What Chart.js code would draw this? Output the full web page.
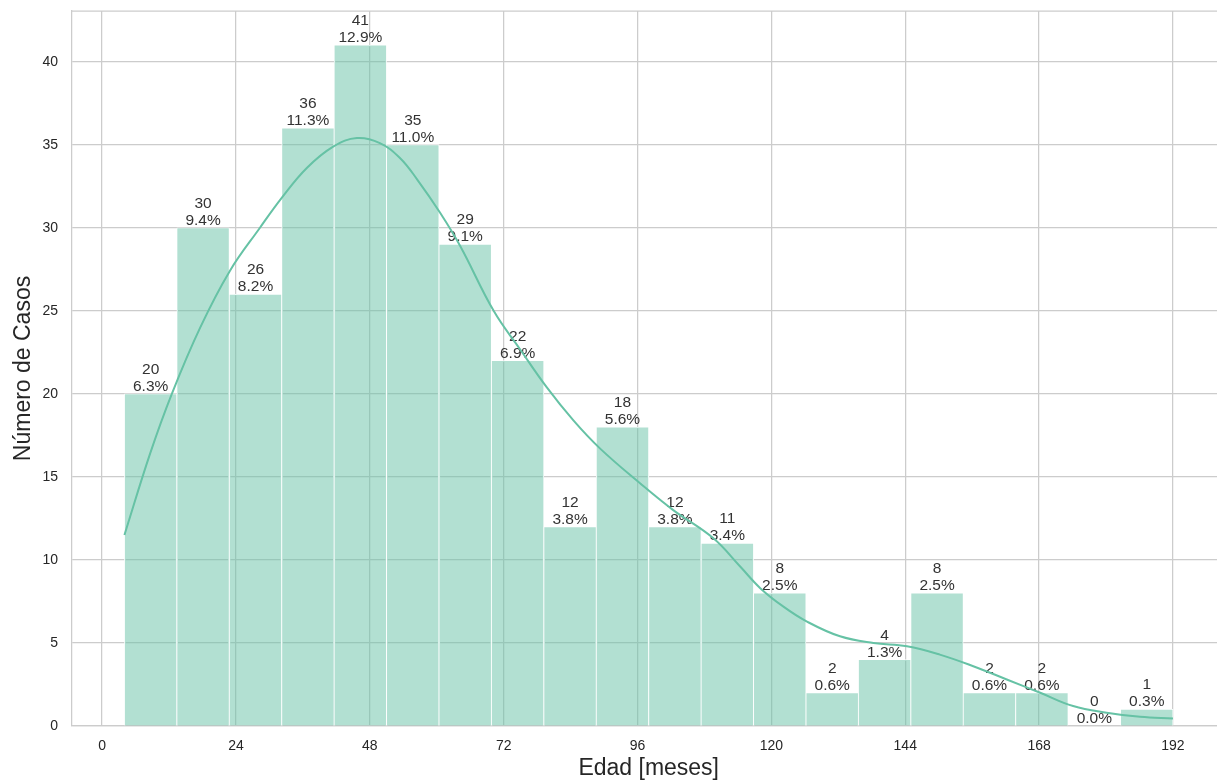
<!DOCTYPE html>
<html>
<head>
<meta charset="utf-8">
<script src="https://cdn.jsdelivr.net/npm/chart.js@4/dist/chart.umd.min.js"></script>
<style>
  html, body { margin: 0; padding: 0; background: #ffffff; overflow: hidden; }
  #wrap { width: 1232px; height: 781px; }
</style>
</head>
<body>
<div id="wrap"><canvas id="c" width="1232" height="781"></canvas></div>
<script>
// Histogram of ages (months): 20 bins of 9.4 months starting at 4
const counts = [20, 30, 26, 36, 41, 35, 29, 22, 12, 18, 12, 11, 8, 2, 4, 8, 2, 2, 0, 1];
const binStart = 4;
const binWidth = 9.4;

// Kernel density estimate, scaled to counts
const kdeAge = [4, 8.6, 12.5, 17.6, 22.9, 28.3, 32.2, 36.7, 41.5, 45.7, 49.8, 53.4, 56.5, 60.6, 64.2,
  70.2, 74.9, 79.7, 84.5, 89.3, 96.5, 102.4, 109.6, 114.4, 118.0, 122.1, 126.3, 132.3, 138.3,
  144.3, 150.2, 156.2, 162.2, 168.2, 174.1, 180.1, 186.1, 192];
const kdeValue = [11.5, 16.4, 20.0, 24.0, 27.4, 30.0, 31.8, 33.6, 34.9, 35.4, 35.1, 34.2, 32.9, 30.9, 28.9,
  25.0, 22.7, 20.4, 18.4, 16.7, 14.6, 13.0, 11.3, 9.6, 8.3, 7.2, 6.3, 5.4, 5.0,
  4.8, 4.3, 3.6, 2.8, 2.0, 1.2, 0.8, 0.55, 0.45];

const xTickStep = 24;
const yTickStep = 5;

const total = counts.reduce((a, b) => a + b, 0);
const barPoints = counts.map((n, i) => ({ x: binStart + binWidth * (i + 0.5), y: n }));
const kdePoints = kdeAge.map((a, i) => ({ x: a, y: kdeValue[i] }));

const TEXT = '#262626';
const GRID = '#cccccc';
const TEAL = '#66c2a5';

Chart.defaults.font.family = '"Liberation Sans", Arial, sans-serif';

// Count and percentage above each bar
const barLabels = {
  id: 'barLabels',
  afterDatasetDraw(chart, args) {
    if (args.index !== 0) return;
    const ctx = chart.ctx;
    ctx.save();
    ctx.font = '15.5px "Liberation Sans", Arial, sans-serif';
    ctx.fillStyle = '#333333';
    ctx.textAlign = 'center';
    ctx.textBaseline = 'alphabetic';
    args.meta.data.forEach((bar, i) => {
      const n = counts[i];
      const pct = (100 * n / total).toFixed(1) + '%';
      ctx.fillText(pct, bar.x, bar.y - 3);
      ctx.fillText(String(n), bar.x, bar.y - 20);
    });
    ctx.restore();
  }
};

// Top frame line of the plot area
const topSpine = {
  id: 'topSpine',
  afterDraw(chart) {
    const { ctx, chartArea } = chart;
    ctx.save();
    ctx.strokeStyle = GRID;
    ctx.lineWidth = 1.25;
    ctx.beginPath();
    ctx.moveTo(chartArea.left, chartArea.top);
    ctx.lineTo(chartArea.right, chartArea.top);
    ctx.stroke();
    ctx.restore();
  }
};

new Chart(document.getElementById('c'), {
  type: 'bar',
  data: {
    datasets: [
      {
        type: 'bar',
        data: barPoints,
        backgroundColor: 'rgba(102,194,165,0.5)',
        borderColor: '#ffffff',
        borderWidth: 0.8,
        barPercentage: 1,
        categoryPercentage: 1,
        order: 1
      },
      {
        type: 'line',
        data: kdePoints,
        borderColor: TEAL,
        borderWidth: 2,
        pointRadius: 0,
        fill: false,
        tension: 0.4,
        order: 0
      }
    ]
  },
  options: {
    responsive: false,
    animation: false,
    layout: { padding: { top: 11, right: 6.6, left: 0, bottom: 0 } },
    plugins: {
      legend: { display: false },
      tooltip: { enabled: false }
    },
    scales: {
      x: {
        type: 'linear',
        offset: false,
        min: -5.4,
        max: 201.4,
        afterFit: s => { s.height = 55; s.paddingLeft = 0; s.paddingRight = 0; },
        ticks: {
          stepSize: xTickStep,
          includeBounds: false,
          color: TEXT,
          font: { size: 14 },
          padding: 12,
          maxRotation: 0
        },
        grid: { color: GRID, lineWidth: 1.25, drawTicks: false, offset: false },
        border: { color: GRID, width: 1.25 },
        title: {
          display: true,
          text: 'Edad [meses]',
          color: TEXT,
          font: { size: 23, lineHeight: 1.2 },
          padding: { top: 0, bottom: -1 }
        }
      },
      y: {
        min: 0,
        max: 43.05,
        afterFit: s => { s.width = 72; s.paddingTop = 0; s.paddingBottom = 0; },
        ticks: {
          stepSize: yTickStep,
          includeBounds: false,
          color: TEXT,
          font: { size: 14 },
          padding: 14
        },
        grid: { color: GRID, lineWidth: 1.25, drawTicks: false },
        border: { color: GRID, width: 1.25 },
        title: {
          display: true,
          text: 'Número de Casos',
          color: TEXT,
          font: { size: 23, lineHeight: 1.2 },
          padding: { top: 10, bottom: 0 }
        }
      }
    }
  },
  plugins: [barLabels, topSpine]
});
</script>
</body>
</html>
